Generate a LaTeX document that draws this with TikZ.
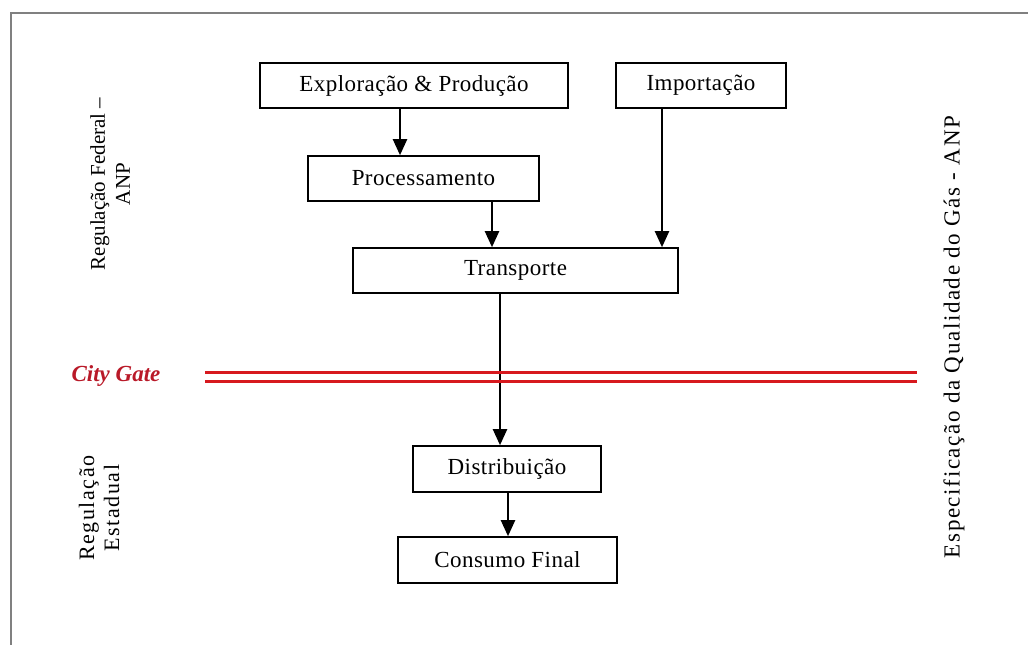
\documentclass[tikz,border=0pt]{standalone}
\usepackage{fontspec}
\setmainfont{Liberation Serif}
\newfontfamily\stagefont{Liberation Serif}[LetterSpace=2]
\newfontfamily\sidefont{Liberation Serif}[LetterSpace=7]
\usetikzlibrary{arrows.meta}
\definecolor{gatered}{RGB}{215,25,30}
\definecolor{gatetext}{RGB}{185,25,40}
\definecolor{framegray}{RGB}{128,128,128}
\begin{document}
\begin{tikzpicture}[x=1pt,y=-1pt,
  stagebox/.style={draw=black,line width=1.6pt,fill=white,inner sep=0pt,
    font=\stagefont\fontsize{23}{25}\selectfont},
  flow/.style={line width=2.2pt,-{Triangle[length=16pt,width=14pt]}},
  sidetext/.style={rotate=90,align=center,inner sep=0pt,
    font=\fontsize{21}{25}\selectfont},
  gateline/.style={gatered,line width=3.6pt}]
\useasboundingbox (0,0) rectangle (1028,645);
% partial outer frame (top and left edges)
\coordinate (fbl) at (11,645);
\coordinate (ftl) at (11,13);
\coordinate (ftr) at (1028,13);
\draw[framegray,line width=2pt] (fbl) -- (ftl) -- (ftr);

% stages of the gas chain
\node[stagebox,minimum width=308pt,minimum height=45pt] (ep)   at (414,85.5)  {Exploração \& Produção};
\node[stagebox,minimum width=170pt,minimum height=45pt] (imp)  at (701,85.5)  {Importação};
\node[stagebox,minimum width=231pt,minimum height=45pt] (proc) at (423.5,178.5) {Processamento};
\node[stagebox,minimum width=325pt,minimum height=45pt] (tra)  at (515.5,270.5) {Transporte};
\node[stagebox,minimum width=188pt,minimum height=46pt] (dis)  at (507,469)   {Distribuição};
\node[stagebox,minimum width=219pt,minimum height=46pt] (con)  at (507.5,560) {Consumo Final};

% arrow columns
\coordinate (c1) at (400,0);
\coordinate (c2) at (492,0);
\coordinate (c3) at (662,0);
\coordinate (c4) at (500,0);
\coordinate (c5) at (508,0);
\draw[flow] (ep.south -| c1) -- (proc.north -| c1);
\draw[flow] (proc.south -| c2) -- (tra.north -| c2);
\draw[flow] (imp.south -| c3) -- (tra.north -| c3);
\draw[flow] (tra.south -| c4) -- (dis.north -| c4);
\draw[flow] (dis.south -| c5) -- (con.north -| c5);

% city gate boundary
\node[font=\fontsize{23}{25}\selectfont\bfseries\itshape,text=gatetext,inner sep=0pt] (gate) at (116,376) {City Gate};
\coordinate (g1a) at (205,372.5);
\coordinate (g1b) at (917,372.5);
\coordinate (g2a) at (205,381.5);
\coordinate (g2b) at (917,381.5);
\draw[gateline] (g1a) -- (g1b);
\draw[gateline] (g2a) -- (g2b);

% regulatory labels
\node[sidetext] (fed) at (110,184) {Regulação Federal –\\ANP};
\node[sidetext,font=\sidefont\fontsize{22}{25}\selectfont] (est) at (99,508) {Regulação\\Estadual};
\node[sidetext,font=\sidefont\fontsize{23}{27}\selectfont] (esp) at (954,337) {Especificação da Qualidade do Gás - ANP};
\end{tikzpicture}
\end{document}
